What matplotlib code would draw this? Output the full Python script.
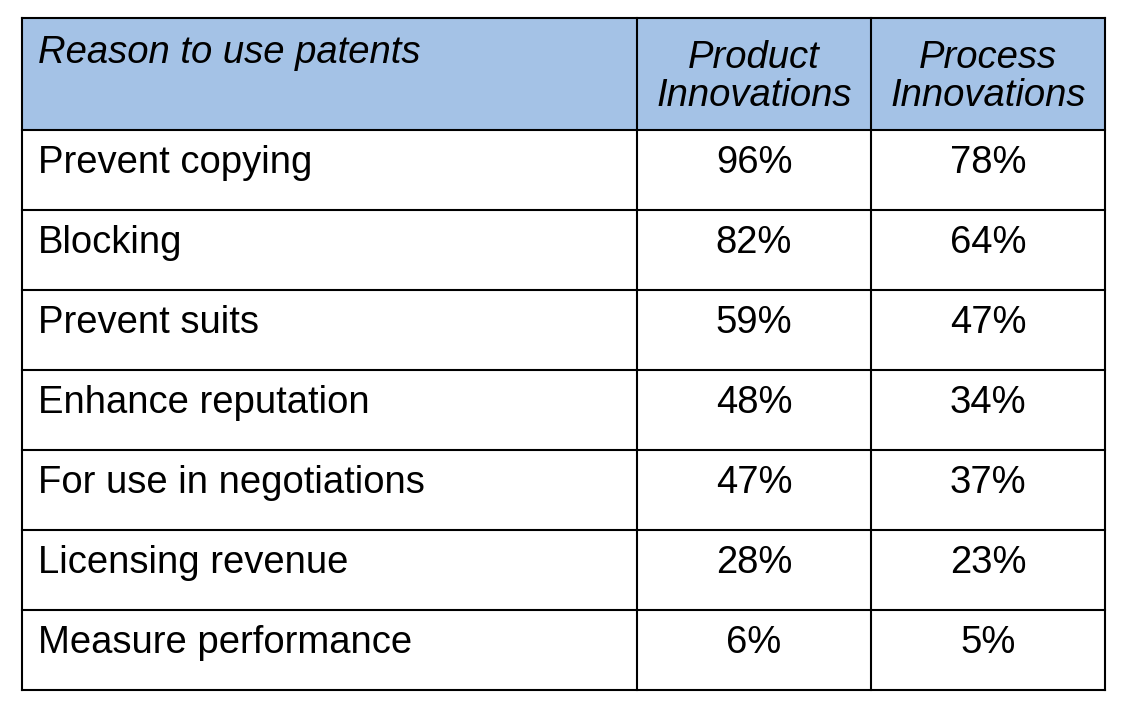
import matplotlib
matplotlib.use("Agg")
import matplotlib.pyplot as plt
from matplotlib.patches import Rectangle

header = ["Reason to use patents", "Product\nInnovations", "Process\nInnovations"]
reasons = ["Prevent copying", "Blocking", "Prevent suits", "Enhance reputation",
           "For use in negotiations", "Licensing revenue", "Measure performance"]
product = [96, 82, 59, 48, 47, 28, 6]
process = [78, 64, 47, 34, 37, 23, 5]

W, H = 1126, 710
fig = plt.figure(figsize=(W/100, H/100), dpi=100)
ax = fig.add_axes([0, 0, 1, 1])
ax.set_xlim(0, W); ax.set_ylim(H, 0); ax.axis("off")

xl, x1, x2, xr = 22, 637, 871, 1105
yt, yh = 18, 130
rh = 80
yb = yh + rh*len(reasons)
fs = 27.5
fam = ["Liberation Sans", "DejaVu Sans"]

ax.add_patch(Rectangle((xl, yt), xr-xl, yh-yt, facecolor="#A4C2E6", edgecolor="none"))
lw = 1.5
for x in (xl, x1, x2, xr):
    ax.plot([x, x], [yt, yb], color="black", lw=lw)
ax.plot([xl, xr], [yt, yt], color="black", lw=lw)
for i in range(len(reasons)+1):
    y = yh + rh*i
    ax.plot([xl, xr], [y, y], color="black", lw=lw)

ax.text(38, 53, header[0], fontsize=fs, style="italic", family=fam, va="center", ha="left")
ax.text((x1+x2)/2, 77, header[1], fontsize=fs, style="italic", family=fam, va="center", ha="center", linespacing=1.05)
ax.text((x2+xr)/2, 77, header[2], fontsize=fs, style="italic", family=fam, va="center", ha="center", linespacing=1.05)

for i, (r, a, b) in enumerate(zip(reasons, product, process)):
    yc = yh + rh*i + rh/2 - 7
    ax.text(38, yc, r, fontsize=fs, family=fam, va="center", ha="left")
    ax.text((x1+x2)/2, yc, f"{a}%", fontsize=fs, family=fam, va="center", ha="center")
    ax.text((x2+xr)/2, yc, f"{b}%", fontsize=fs, family=fam, va="center", ha="center")

fig.savefig("out.png", dpi=100, facecolor="white")
